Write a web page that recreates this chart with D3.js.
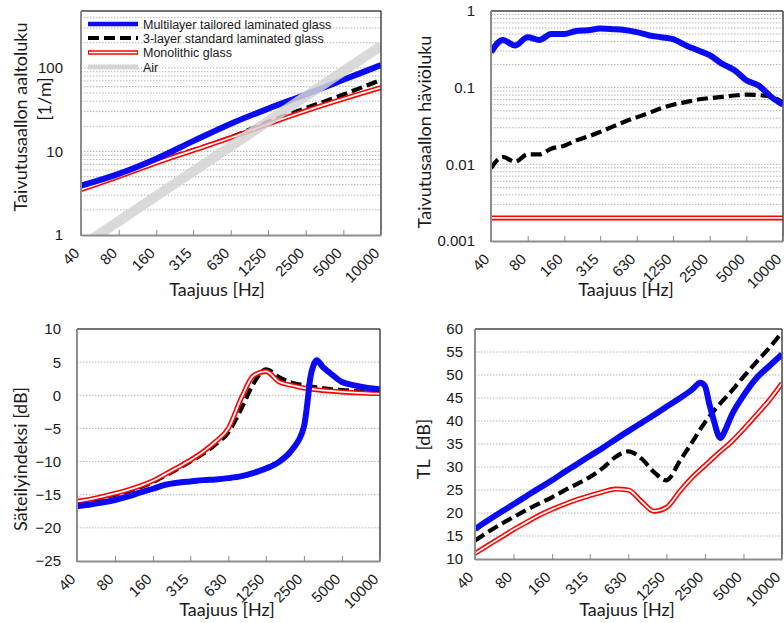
<!DOCTYPE html>
<html><head><meta charset="utf-8">
<script src="https://cdn.jsdelivr.net/npm/d3@7"></script>
<style>body{margin:0;background:#fff}svg{display:block}</style>
</head><body><script>
// ---------- DATA ----------
const freqTicks = [40, 80, 160, 315, 630, 1250, 2500, 5000, 10000];
const seriesNames = ["Multilayer tailored laminated glass", "3-layer standard laminated glass", "Monolithic glass", "Air"];

// Panel A: bending wavenumber [1/m]
const freqA = [40, 80, 160, 315, 630, 1250, 2500, 5000, 10000];
const kMulti = [3.9, 5.4, 8.2, 13.3, 21.5, 32.5, 48, 72, 108];
const kStd   = [3.55, 5.1, 7.5, 10.4, 14.8, 22.5, 33, 48, 72];
const kMono  = [3.5, 5.0, 7.3, 10.3, 14.6, 21.3, 30.5, 42.5, 58];
const kAir   = [0.73, 1.46, 2.93, 5.77, 11.5, 22.9, 45.8, 91.6, 183];
const yTicksA = [1, 10, 100];

// Panel B: loss factor
const freq3 = [40, 50, 63, 80, 100, 125, 160, 200, 250, 315, 400, 500, 630, 800, 1000, 1250, 1600, 2000, 2500, 3150, 4000, 5000, 6300, 8000, 10000];
const etaMulti = [0.29, 0.42, 0.355, 0.455, 0.42, 0.5, 0.5, 0.55, 0.56, 0.59, 0.58, 0.565, 0.53, 0.48, 0.455, 0.43, 0.356, 0.307, 0.265, 0.206, 0.169, 0.125, 0.107, 0.076, 0.06];
const etaStd   = [0.0089, 0.0125, 0.0108, 0.0135, 0.0135, 0.016, 0.0175, 0.0205, 0.023, 0.0265, 0.031, 0.036, 0.041, 0.047, 0.054, 0.06, 0.065, 0.07, 0.073, 0.076, 0.079, 0.081, 0.08, 0.076, 0.064];
const freqEtaMono = [40, 10000];
const etaMono  = [0.002, 0.002];
const yTicksB = [0.001, 0.01, 0.1, 1];

// Panel C: radiation index [dB]
const freqRadMulti = [40, 50, 63, 80, 100, 125, 160, 200, 250, 315, 400, 500, 630, 800, 1000, 1250, 1600, 2000, 2500, 2650, 2800, 3000, 3150, 3550, 4000, 5000, 6300, 8000, 10000];
const radMulti = [-16.7, -16.5, -16.2, -15.8, -15.3, -14.7, -14.1, -13.5, -13.2, -13.0, -12.8, -12.7, -12.5, -12.2, -11.7, -11.05, -10.0, -8.3, -4.75, -1.5, 2.5, 4.7, 5.3, 4.2, 3.4, 2.0, 1.5, 1.1, 0.9];
const radStd   = [-16.2, -15.9, -15.5, -15.0, -14.5, -13.9, -13.1, -12.1, -11.1, -10.0, -8.8, -7.4, -5.6, -2.0, 1.8, 3.9, 2.7, 1.9, 1.5, 1.2, 0.95, 0.8, 0.65, 0.55, 0.45];
const radMono  = [-16.0, -15.7, -15.3, -14.8, -14.3, -13.7, -12.9, -11.9, -10.9, -9.8, -8.5, -7.0, -5.0, -0.4, 3.0, 3.6, 2.0, 1.5, 1.1, 0.85, 0.65, 0.5, 0.4, 0.3, 0.25];
const yTicksC = [-25, -20, -15, -10, -5, 0, 5, 10];

// Panel D: transmission loss [dB]
const freqTlMulti = [40, 50, 63, 80, 100, 125, 160, 200, 250, 315, 400, 500, 630, 800, 1000, 1250, 1600, 2000, 2300, 2500, 2700, 2930, 3180, 3320, 3600, 4000, 5000, 6300, 8000, 10000];
const tlMulti = [16.5, 18.3, 20.1, 21.9, 23.6, 25.3, 27.1, 28.9, 30.6, 32.4, 34.2, 36.0, 37.8, 39.6, 41.3, 43.1, 45.0, 46.9, 48.3, 47.6, 43.8, 40.2, 36.9, 36.3, 38.0, 41.0, 45.5, 49.3, 52.0, 54.5];
const tlStd    = [14.0, 15.8, 17.5, 19.1, 20.6, 22.0, 23.4, 24.9, 26.3, 27.8, 29.8, 32.2, 33.4, 31.8, 28.9, 27.1, 31.4, 35.5, 39.7, 43.2, 46.4, 49.6, 52.8, 56.0, 59.3];
const tlMono   = [11.2, 12.9, 14.6, 16.4, 17.9, 19.4, 20.8, 21.9, 22.9, 23.8, 24.6, 25.2, 25.0, 22.5, 20.4, 21.2, 24.8, 27.8, 30.3, 32.9, 35.4, 38.2, 41.3, 44.6, 48.2];
const yTicksD = [10, 15, 20, 25, 30, 35, 40, 45, 50, 55, 60];

// ---------- DRAWING ----------
const W = 784, H = 623;
const svg = d3.select("body").append("svg").attr("width", W).attr("height", H);
const TICK_FONT = "'Liberation Sans', Arial, sans-serif";
const TITLE_FONT = "Lato, 'Open Sans', sans-serif";

const styles = {
  multi: {color: "#0a0af5", width: 6},
  std: {color: "#000", width: 4.2, dash: "11,5"},
  mono: {color: "#ff0000", width: 5, inner: 1.8},
  air: {color: "#d4d4d4", width: 10, opacity: 0.85}
};

function zip(xs, ys) { return xs.map((f, i) => [f, ys[i]]); }

function panel(cfg) {
  const g = svg.append("g");
  const x = d3.scaleLog().domain([40, 10000]).range([cfg.left, cfg.right]);
  const y = cfg.log ? d3.scaleLog().domain(cfg.domain).range([cfg.bottom, cfg.top])
                    : d3.scaleLinear().domain(cfg.domain).range([cfg.bottom, cfg.top]);
  // gridlines
  let grid = [];
  if (cfg.log) {
    const lo = Math.round(Math.log10(cfg.domain[0]));
    for (let e = lo; e < 4; e++) for (let k = 1; k < 10; k++) {
      const v = k * Math.pow(10, e);
      if (v > cfg.domain[0] * 1.0001 && v < cfg.domain[1] * 1.0001) grid.push(v);
    }
  } else grid = cfg.ticks.filter(v => v > cfg.domain[0] && v < cfg.domain[1]);
  g.append("g").selectAll("line").data(grid).join("line")
    .attr("x1", cfg.left).attr("x2", cfg.right)
    .attr("y1", d => y(d)).attr("y2", d => y(d))
    .attr("stroke", "#b4b4b4").attr("stroke-width", 1).attr("stroke-dasharray", "1.5,1.5");

  // clip
  const cid = "clip" + cfg.id;
  svg.append("clipPath").attr("id", cid).append("rect")
    .attr("x", cfg.left).attr("y", cfg.top).attr("width", cfg.right - cfg.left).attr("height", cfg.bottom - cfg.top);
  const lg = g.append("g").attr("clip-path", `url(#${cid})`);
  const line = d3.line().x(d => x(d[0])).y(d => y(d[1])).curve(d3.curveMonotoneX);
  cfg.series.forEach(s => {
    const st = styles[s.style];
    const p = lg.append("path").datum(zip(s.x, s.y)).attr("d", line).attr("fill", "none")
      .attr("stroke", st.color).attr("stroke-width", st.width).attr("stroke-linejoin", "round");
    if (st.dash) p.attr("stroke-dasharray", st.dash);
    if (st.opacity) p.attr("stroke-opacity", st.opacity);
    if (st.inner) lg.append("path").datum(zip(s.x, s.y)).attr("d", line).attr("fill", "none")
      .attr("stroke", "#fff").attr("stroke-width", st.inner);
  });

  // borders
  g.append("line").attr("x1", cfg.left).attr("x2", cfg.right).attr("y1", cfg.top).attr("y2", cfg.top).attr("stroke", "#444").attr("stroke-width", 1.5);
  g.append("line").attr("x1", cfg.right).attr("x2", cfg.right).attr("y1", cfg.top).attr("y2", cfg.bottom).attr("stroke", "#444").attr("stroke-width", 1.5);

  // x axis
  const xa = g.append("g").attr("transform", `translate(0,${cfg.bottom})`)
    .call(d3.axisBottom(x).tickValues(freqTicks).tickFormat(d3.format("d")).tickSizeInner(-5).tickSizeOuter(0));
  xa.select(".domain").attr("stroke", "#8c8c8c").attr("stroke-width", 2);
  xa.selectAll(".tick line").attr("stroke", "#8c8c8c").attr("stroke-width", 1);
  xa.selectAll(".tick text").attr("x", 0).attr("y", 0).attr("dy", 0)
    .attr("transform", "translate(-1,19) rotate(-45)").attr("text-anchor", "end")
    .attr("font-family", TICK_FONT).attr("font-size", 15).attr("fill", "#1a1a1a");
  // y axis line
  g.append("line").attr("x1", cfg.left).attr("x2", cfg.left).attr("y1", cfg.top).attr("y2", cfg.bottom + 1)
    .attr("stroke", "#8c8c8c").attr("stroke-width", 2);
  g.append("g").selectAll("text").data(cfg.ticks).join("text")
    .attr("x", cfg.left - cfg.ygap).attr("y", d => y(d)).attr("dy", "0.36em")
    .attr("text-anchor", "end").attr("font-family", TICK_FONT).attr("font-size", 15).attr("fill", "#1a1a1a")
    .text(d => cfg.fmt(d));

  // titles
  g.append("text").attr("x", cfg.xtx).attr("y", cfg.xty).attr("text-anchor", "middle")
    .attr("font-family", TITLE_FONT).attr("font-size", 18).attr("fill", "#1a1a1a").text("Taajuus [Hz]");
  cfg.ytitles.forEach(t => {
    g.append("text").attr("transform", `translate(${t.x},${t.y}) rotate(-90)`).attr("text-anchor", "middle")
      .attr("font-family", TITLE_FONT).attr("font-size", 18).attr("fill", "#1a1a1a")
      .style("white-space", "pre").text(t.text);
  });
  return {g, x, y};
}

panel({id: "A", left: 81, right: 381, top: 11, bottom: 235, log: true, domain: [1, 480], ticks: yTicksA,
  fmt: d3.format("d"), ygap: 18, xtx: 217, xty: 296,
  ytitles: [{x: 27, y: 117, text: "Taivutusaallon aaltoluku"}, {x: 51, y: 99, text: "[1/m]"}],
  series: [
    {x: freqA, y: kStd, style: "std"},
    {x: freqA, y: kMono, style: "mono"},
    {x: freqA, y: kMulti, style: "multi"},
    {x: freqA, y: kAir, style: "air"}
  ]});

panel({id: "B", left: 491, right: 783, top: 11, bottom: 241, log: true, domain: [0.001, 1], ticks: yTicksB,
  fmt: d => String(d), ygap: 16, xtx: 626, xty: 296,
  ytitles: [{x: 431, y: 132, text: "Taivutusaallon häviöluku"}],
  series: [
    {x: freq3, y: etaStd, style: "std"},
    {x: freqEtaMono, y: etaMono, style: "mono"},
    {x: freq3, y: etaMulti, style: "multi"}
  ]});

panel({id: "C", left: 77, right: 380, top: 329, bottom: 561, log: false, domain: [-25, 10], ticks: yTicksC,
  fmt: d3.format("d"), ygap: 16, xtx: 227, xty: 616,
  ytitles: [{x: 27, y: 459, text: "Säteilyindeksi [dB]"}],
  series: [
    {x: freq3, y: radStd, style: "std"},
    {x: freq3, y: radMono, style: "mono"},
    {x: freqRadMulti, y: radMulti, style: "multi"}
  ]});

panel({id: "D", left: 475, right: 782, top: 329, bottom: 559, log: false, domain: [10, 60], ticks: yTicksD,
  fmt: d3.format("d"), ygap: 12, xtx: 627, xty: 616,
  ytitles: [{x: 430, y: 449, text: "TL  [dB]"}],
  series: [
    {x: freq3, y: tlStd, style: "std"},
    {x: freq3, y: tlMono, style: "mono"},
    {x: freqTlMulti, y: tlMulti, style: "multi"}
  ]});

// legend
const leg = svg.append("g");
const legRows = [
  {name: seriesNames[0], style: "multi", y: 24, w: 4.5},
  {name: seriesNames[1], style: "std", y: 38, w: 4},
  {name: seriesNames[2], style: "mono", y: 52.5, w: 4.5},
  {name: seriesNames[3], style: "air", y: 67, w: 5}
];
legRows.forEach(r => {
  const st = styles[r.style];
  const l = leg.append("line").attr("x1", 88).attr("x2", 138).attr("y1", r.y).attr("y2", r.y)
    .attr("stroke", st.color).attr("stroke-width", r.w);
  if (st.dash) l.attr("stroke-dasharray", "11,5");
  if (st.inner) leg.append("line").attr("x1", 89).attr("x2", 137).attr("y1", r.y).attr("y2", r.y)
    .attr("stroke", "#fff").attr("stroke-width", 1.5);
  leg.append("text").attr("x", 143).attr("y", r.y).attr("dy", "0.36em")
    .attr("font-family", TICK_FONT).attr("font-size", 12.5).attr("fill", "#1a1a1a").text(r.name);
});
</script></body></html>
